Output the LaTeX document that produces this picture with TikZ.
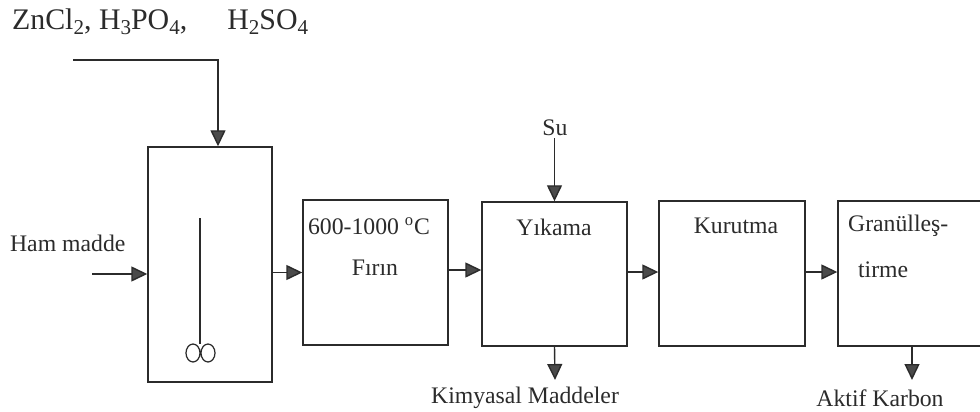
\documentclass[tikz,border=0pt]{standalone}
\usepackage{fontspec}
\setmainfont{Liberation Serif}
\usepackage{xcolor}
\definecolor{ink}{HTML}{2B2B2B}
\definecolor{tipc}{HTML}{4A4A4A}
\usetikzlibrary{arrows.meta,positioning,calc}
\newcommand{\chsub}[1]{\raisebox{-0.35ex}{\fontsize{12}{12}\selectfont #1}}
\tikzset{
  >={Triangle[length=3.2mm,width=3mm,fill=tipc]},
  unit/.style={draw=ink,line width=0.8pt,inner sep=0pt,fill=white},
  lab/.style={font=\fontsize{13.5}{15}\selectfont,text=ink,inner sep=1pt},
  arr/.style={->,draw=ink,line width=0.8pt},
}
\begin{document}
\begin{tikzpicture}[x=0.2mm,y=-0.2mm]
\useasboundingbox (0,0) rectangle (980,412);
% units
\node[unit,minimum width=24.8mm,minimum height=47mm] (re) at (210,264.5) {};
\node[unit,minimum width=29mm,minimum height=29mm] (fu) at (375.5,272.5) {};
\node[unit,minimum width=29mm,minimum height=28.8mm] (wa) at (554.5,274) {};
\node[unit,minimum width=29.2mm,minimum height=29mm] (dr) at (732,273.5) {};
\node[unit,minimum width=30mm,minimum height=29mm] (gr) at (913,273.5) {};
% texts
\node[lab,anchor=west,font=\fontsize{17}{19}\selectfont] (chem) at (10,22) {ZnCl\chsub{2}, H\chsub{3}PO\chsub{4},\hspace{6.5mm} H\chsub{2}SO\chsub{4}};
\node[lab,anchor=west] (ham) at (8,243) {Ham madde};
\node[lab,anchor=west] at (306,226) {600-1000 \textsuperscript{o}C};
\node[lab] at (375,268) {Fırın};
\node[lab] (su) at (555,128) {Su};
\node[lab] at (554,227) {Yıkama};
\node[lab] at (736,226) {Kurutma};
\node[lab,anchor=west] at (846,226) {Granülleş-};
\node[lab,anchor=west] at (856,270) {tirme};
\node[lab] (kim) at (525,398) {Kimyasal Maddeler};
\node[lab] (ak) at (880,398) {Aktif Karbon};
% stirrer
\draw[ink,line width=0.8pt] (200,218) -- (200,344);
\draw[ink,line width=0.7pt] (193,353) ellipse (7 and 9) (208,353) ellipse (7 and 9);
% flows
\coordinate (c1) at (73,60);
\coordinate (c2) at (92,274);
\coordinate (c3) at (555,380);
\coordinate (c4) at (912,380);
\draw[arr] (c1) -| ([xshift=1.6mm]re.north);
\draw[arr] (c2) -- (re.west |- c2);
\draw[arr] (re.east |- fu.west) -- (fu.west);
\draw[arr] (fu.east |- 0,270) -- (wa.west |- 0,270);
\draw[arr] (wa.east |- 0,272) -- (dr.west |- 0,272);
\draw[arr] (dr.east |- 0,272) -- (gr.west |- 0,272);
\draw[arr] (wa.north |- su.south) -- (wa.north);
\draw[arr] (wa.south) -- (c3);
\draw[arr] (gr.south -| c4) -- (c4);
\end{tikzpicture}
\end{document}
